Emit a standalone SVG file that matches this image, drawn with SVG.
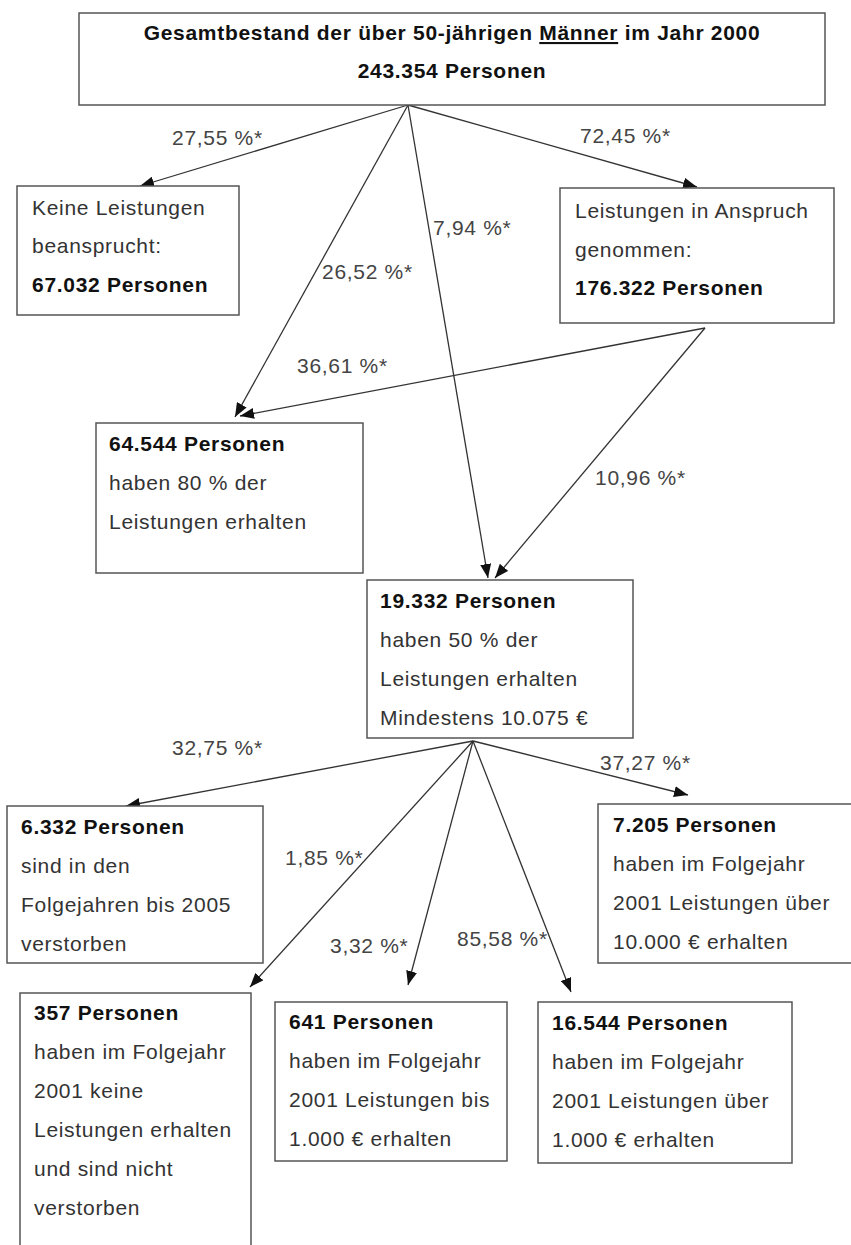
<svg xmlns="http://www.w3.org/2000/svg" width="851" height="1245" viewBox="0 0 851 1245">
<defs>
<marker id="arr" markerUnits="userSpaceOnUse" markerWidth="14" markerHeight="11" refX="14" refY="5.5" orient="auto">
<path d="M0,0 L14,5.5 L0,11 z" fill="#111"/>
</marker>
<style>
.box{fill:#fff;stroke:#555;stroke-width:1.5}
text{font-family:"Liberation Sans",Arial,sans-serif;font-size:21px;letter-spacing:0.7px}
.b{font-weight:bold;fill:#111}
.r{fill:#333}
.lbl{fill:#444}
.con line{stroke:#333;stroke-width:1.3;marker-end:url(#arr)}
</style>
</defs>
<rect width="851" height="1245" fill="#fff"/>

<g class="con" id="connectors">
<line x1="408" y1="105" x2="140" y2="186"/>
<line x1="408" y1="105" x2="697" y2="187"/>
<line x1="408" y1="105" x2="235" y2="417"/>
<line x1="408" y1="105" x2="488" y2="578"/>
<line x1="705" y1="328" x2="240" y2="416"/>
<line x1="705" y1="328" x2="495" y2="578"/>
<line x1="473" y1="741" x2="126" y2="806"/>
<line x1="473" y1="741" x2="688" y2="795"/>
<line x1="473" y1="741" x2="250" y2="987"/>
<line x1="473" y1="741" x2="408" y2="985"/>
<line x1="473" y1="741" x2="571" y2="992"/>
</g>

<g id="labels">
<text class="lbl" x="172" y="145">27,55 %*</text>
<text class="lbl" x="580" y="143">72,45 %*</text>
<text class="lbl" x="322" y="279">26,52 %*</text>
<text class="lbl" x="433" y="235">7,94 %*</text>
<text class="lbl" x="297" y="373">36,61 %*</text>
<text class="lbl" x="595" y="485">10,96 %*</text>
<text class="lbl" x="172" y="755">32,75 %*</text>
<text class="lbl" x="600" y="770">37,27 %*</text>
<text class="lbl" x="285" y="865">1,85 %*</text>
<text class="lbl" x="330" y="953">3,32 %*</text>
<text class="lbl" x="457" y="946">85,58 %*</text>
</g>

<g id="n-total">
<rect class="box" x="79" y="13" width="746" height="92"/>
<text class="b" x="452" y="40" text-anchor="middle">Gesamtbestand der über 50-jährigen <tspan text-decoration="underline">Männer</tspan> im Jahr 2000</text>
<text class="b" x="452" y="78" text-anchor="middle">243.354 Personen</text>
</g>

<g id="n-keine">
<rect class="box" x="17" y="186" width="222" height="129"/>
<text class="r" x="32" y="215">Keine Leistungen</text>
<text class="r" x="32" y="253">beansprucht:</text>
<text class="b" x="32" y="292">67.032 Personen</text>
</g>

<g id="n-leistungen">
<rect class="box" x="560" y="188" width="274" height="135"/>
<text class="r" x="575" y="218">Leistungen in Anspruch</text>
<text class="r" x="575" y="257">genommen:</text>
<text class="b" x="575" y="295">176.322 Personen</text>
</g>

<g id="n-64544">
<rect class="box" x="96" y="423" width="267" height="150"/>
<text class="b" x="109" y="451">64.544 Personen</text>
<text class="r" x="109" y="490">haben 80 % der</text>
<text class="r" x="109" y="529">Leistungen erhalten</text>
</g>

<g id="n-19332">
<rect class="box" x="367" y="580" width="266" height="158"/>
<text class="b" x="380" y="608">19.332 Personen</text>
<text class="r" x="380" y="647">haben 50 % der</text>
<text class="r" x="380" y="686">Leistungen erhalten</text>
<text class="r" x="380" y="725">Mindestens 10.075 €</text>
</g>

<g id="n-6332">
<rect class="box" x="7" y="806" width="256" height="157"/>
<text class="b" x="21" y="834">6.332 Personen</text>
<text class="r" x="21" y="873">sind in den</text>
<text class="r" x="21" y="912">Folgejahren bis 2005</text>
<text class="r" x="21" y="951">verstorben</text>
</g>

<g id="n-7205">
<rect class="box" x="598" y="804" width="260" height="159"/>
<text class="b" x="613" y="832">7.205 Personen</text>
<text class="r" x="613" y="871">haben im Folgejahr</text>
<text class="r" x="613" y="910">2001 Leistungen über</text>
<text class="r" x="613" y="949">10.000 € erhalten</text>
</g>

<g id="n-357">
<rect class="box" x="20" y="993" width="231" height="260"/>
<text class="b" x="34" y="1020">357 Personen</text>
<text class="r" x="34" y="1059">haben im Folgejahr</text>
<text class="r" x="34" y="1098">2001 keine</text>
<text class="r" x="34" y="1137">Leistungen erhalten</text>
<text class="r" x="34" y="1176">und sind nicht</text>
<text class="r" x="34" y="1215">verstorben</text>
</g>

<g id="n-641">
<rect class="box" x="275" y="1002" width="232" height="159"/>
<text class="b" x="289" y="1029">641 Personen</text>
<text class="r" x="289" y="1068">haben im Folgejahr</text>
<text class="r" x="289" y="1107">2001 Leistungen bis</text>
<text class="r" x="289" y="1146">1.000 € erhalten</text>
</g>

<g id="n-16544">
<rect class="box" x="538" y="1002" width="254" height="161"/>
<text class="b" x="552" y="1030">16.544 Personen</text>
<text class="r" x="552" y="1069">haben im Folgejahr</text>
<text class="r" x="552" y="1108">2001 Leistungen über</text>
<text class="r" x="552" y="1147">1.000 € erhalten</text>
</g>
</svg>
